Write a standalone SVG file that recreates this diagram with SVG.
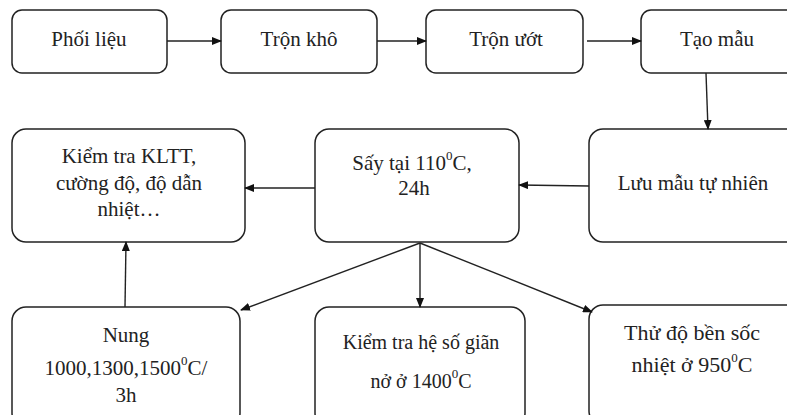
<svg xmlns="http://www.w3.org/2000/svg" width="787" height="415" viewBox="0 0 787 415">
<defs>
<marker id="ah" markerWidth="10" markerHeight="8" refX="9" refY="4" orient="auto" markerUnits="userSpaceOnUse">
<path d="M0,0 L10,4 L0,8 Z" fill="#111"/>
</marker>
<style>
.box{fill:#fff;stroke:#222;stroke-width:1.5}
.t{font-family:"Liberation Serif","Times New Roman",serif;font-size:21px;fill:#222;text-anchor:middle}
.s{font-size:13px}
.c{fill:none;stroke:#222;stroke-width:1.4;marker-end:url(#ah)}
</style>
</defs>
<rect width="787" height="415" fill="#fff"/>
<g id="n1"><rect class="box" x="12" y="10" width="155" height="63" rx="10"/><text class="t" x="89" y="46">Phối liệu</text></g>
<g id="n2"><rect class="box" x="221" y="10" width="156" height="63" rx="10"/><text class="t" x="299" y="46">Trộn khô</text></g>
<g id="n3"><rect class="box" x="426" y="10" width="157" height="63" rx="10"/><text class="t" x="506" y="46">Trộn ướt</text></g>
<g id="n4"><rect class="box" x="641" y="10" width="160" height="63" rx="10"/><text class="t" x="717" y="46">Tạo mẫu</text></g>
<g id="n5"><rect class="box" x="589" y="129" width="212" height="113" rx="14"/><text class="t" x="693" y="190">Lưu mẫu tự nhiên</text></g>
<g id="n6"><rect class="box" x="315" y="129" width="204" height="113" rx="14"/><text class="t" x="412" y="170">Sấy tại 110<tspan class="s" dy="-10">0</tspan><tspan dy="10">C,</tspan></text><text class="t" x="414" y="195">24h</text></g>
<g id="n7"><rect class="box" x="12" y="129" width="233" height="113" rx="14"/><text class="t" x="129" y="163">Kiểm tra KLTT,</text><text class="t" x="129" y="190">cường độ, độ dẫn</text><text class="t" x="129" y="216">nhiệt…</text></g>
<g id="n8"><rect class="box" x="12" y="307" width="228" height="120" rx="14"/><text class="t" x="126" y="342">Nung</text><text class="t" x="126" y="375">1000,1300,1500<tspan class="s" dy="-10">0</tspan><tspan dy="10">C/</tspan></text><text class="t" x="126" y="402">3h</text></g>
<g id="n9"><rect class="box" x="315" y="307" width="210" height="120" rx="14"/><text class="t" x="421" y="349" style="font-size:20px">Kiểm tra hệ số giãn</text><text class="t" x="421" y="388" style="font-size:20px">nở ở 1400<tspan class="s" dy="-10">0</tspan><tspan dy="10">C</tspan></text></g>
<g id="n10"><rect class="box" x="589" y="305" width="212" height="120" rx="14"/><text class="t" x="692" y="340" style="font-size:22px">Thử độ bền sốc</text><text class="t" x="692" y="372" style="font-size:22px">nhiệt ở 950<tspan class="s" dy="-10">0</tspan><tspan dy="10">C</tspan></text></g>
<g id="connectors">
<line class="c" x1="167" y1="41" x2="221" y2="41"/>
<line class="c" x1="377" y1="41" x2="426" y2="41"/>
<line class="c" x1="587" y1="41" x2="641" y2="41"/>
<line class="c" x1="706" y1="73" x2="708" y2="129"/>
<line class="c" x1="589" y1="186" x2="519" y2="185"/>
<line class="c" x1="315" y1="188" x2="245" y2="188"/>
<line class="c" x1="420" y1="243" x2="241" y2="310"/>
<line class="c" x1="420" y1="243" x2="420" y2="307"/>
<line class="c" x1="420" y1="243" x2="592" y2="312"/>
<line class="c" x1="125" y1="307" x2="126" y2="242"/>
</g>
</svg>
